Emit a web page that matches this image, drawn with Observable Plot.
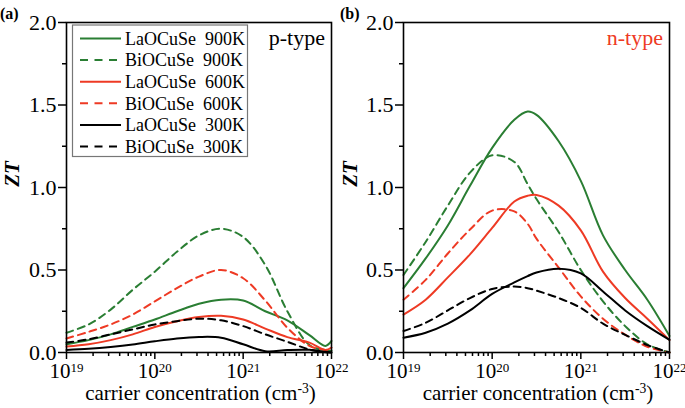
<!DOCTYPE html>
<html><head><meta charset="utf-8">
<script src="https://cdn.jsdelivr.net/npm/d3@7"></script>
<script src="https://cdn.jsdelivr.net/npm/@observablehq/plot@0.6"></script>
<style>
body{margin:0;background:#fff;}
#wrap{position:relative;width:685px;height:408px;overflow:hidden;font-family:"Liberation Serif",serif;}
.panel{position:absolute;top:0;}
#wrap svg, #wrap svg text, #wrap svg tspan{font-family:"Liberation Serif",serif !important;}
</style></head><body><div id="wrap"></div>
<script>
// ---- data (exponent of carrier concentration, ZT) ----
const pLogN = [19, 19.25, 19.5, 19.75, 20, 20.25, 20.5, 20.75, 21, 21.25, 21.5, 21.75, 21.93, 22];
const pLa900 = [0.05, 0.075, 0.11, 0.155, 0.20, 0.25, 0.295, 0.32, 0.315, 0.25, 0.195, 0.105, 0.04, 0.07];
const pBi900 = [0.12, 0.17, 0.26, 0.38, 0.49, 0.61, 0.71, 0.75, 0.70, 0.53, 0.25, 0.045, 0.015, 0.01];
const pLa600 = [0.036, 0.05, 0.075, 0.11, 0.155, 0.19, 0.215, 0.222, 0.20, 0.145, 0.093, 0.06, 0.015, 0.03];
const pBi600 = [0.085, 0.125, 0.17, 0.23, 0.31, 0.39, 0.46, 0.50, 0.45, 0.315, 0.15, 0.04, 0.015, 0.01];
const pLa300 = [0.015, 0.022, 0.033, 0.048, 0.068, 0.085, 0.094, 0.09, 0.05, 0.008, 0.015, 0.016, 0.004, 0.0];
const pBi300 = [0.06, 0.08, 0.11, 0.14, 0.17, 0.19, 0.205, 0.195, 0.16, 0.11, 0.065, 0.018, 0.002, 0.0];

const nLogN = [19, 19.25, 19.5, 19.75, 20, 20.25, 20.4, 20.5, 20.75, 21, 21.25, 21.5, 21.75, 22];
const nLa900 = [0.39, 0.57, 0.77, 1.01, 1.24, 1.41, 1.46, 1.44, 1.28, 1.04, 0.71, 0.50, 0.32, 0.10];
const nBi900 = [0.47, 0.67, 0.89, 1.09, 1.195, 1.155, 1.02, 0.93, 0.73, 0.50, 0.31, 0.16, 0.05, 0.0];
const nLa600 = [0.23, 0.32, 0.455, 0.595, 0.755, 0.915, 0.95, 0.955, 0.89, 0.74, 0.49, 0.33, 0.205, 0.075];
const nBi600 = [0.32, 0.44, 0.60, 0.745, 0.86, 0.855, 0.78, 0.69, 0.515, 0.34, 0.205, 0.108, 0.035, 0.0];
const nLa300 = [0.09, 0.12, 0.175, 0.255, 0.355, 0.425, 0.463, 0.485, 0.508, 0.48, 0.37, 0.255, 0.16, 0.077];
const nBi300 = [0.13, 0.18, 0.255, 0.33, 0.385, 0.40, 0.39, 0.375, 0.33, 0.27, 0.175, 0.107, 0.045, 0.0];

const seriesLabels = ["LaOCuSe\u00a0 900K", "BiOCuSe\u00a0 900K", "LaOCuSe\u00a0 600K", "BiOCuSe\u00a0 600K", "LaOCuSe\u00a0 300K", "BiOCuSe\u00a0 300K"];
const seriesColors = ["#2a7e33", "#2a7e33", "#ee3a24", "#ee3a24", "#000000", "#000000"];
const seriesDashed = [false, true, false, true, false, true];

const yMajor = [0, 0.5, 1, 1.5, 2];
const yMinor = [0.25, 0.75, 1.25, 1.75];
const xMajor = [1e19, 1e20, 1e21, 1e22];
const xMinor = [];
for (const e of [19, 20, 21]) for (let k = 2; k <= 9; k++) xMinor.push(k * 10 ** e);

const FONT = '"Liberation Serif", serif';

function table(xs, ys) { return xs.map((e, i) => ({n: 10 ** e, zt: ys[i]})); }

function panel(opts) {
  const {width, marginLeft, marginRight, series, logN} = opts;
  const marks = [
    Plot.axisY({ticks: yMinor, tickSize: 4, tickFormat: () => "", strokeWidth: 1.5, label: null}),
    Plot.axisY({ticks: yMajor, tickSize: 8, tickPadding: 2, tickFormat: d3.format(".1f"), strokeWidth: 1.5, fontSize: 22, fontFamily: FONT, label: null}),
    Plot.axisX({ticks: xMinor, tickSize: 4, tickFormat: () => "", strokeWidth: 1.5, label: null}),
    Plot.axisX({ticks: xMajor, tickSize: 7, tickPadding: 4, tickFormat: d => String(Math.round(Math.log10(d))), strokeWidth: 1.5, fontSize: 21, fontFamily: FONT, label: null})
  ];
  series.forEach((ys, i) => {
    marks.push(Plot.line(table(logN, ys), {
      x: "n", y: "zt", stroke: seriesColors[i], strokeWidth: 2,
      strokeDasharray: seriesDashed[i] ? "7,5" : null, curve: "catmull-rom"
    }));
  });
  marks.push(Plot.frame({stroke: "#000", strokeWidth: 1.6}));
  const svg = Plot.plot({
    width, height: 408, marginLeft, marginRight, marginTop: 22, marginBottom: 56,
    x: {type: "log", domain: [1e19, 1e22]},
    y: {domain: [0, 2]},
    style: {fontFamily: FONT, fontSize: "21px", color: "#000", background: "transparent", overflow: "visible"},
    marks
  });
  const s = d3.select(svg);
  s.selectAll('g[aria-label="x-axis tick label"] text').each(function () {
    const e = this.textContent;
    if (!e) return;
    this.textContent = "";
    const t = d3.select(this);
    t.append("tspan").text("10");
    t.append("tspan").attr("dy", "-0.5em").attr("font-size", "0.62em").text(e);
  });
  const fx0 = marginLeft, fx1 = width - marginRight;
  // x label
  const xl = s.append("text").attr("x", (fx0 + fx1) / 2 + 2).attr("y", 400)
    .attr("text-anchor", "middle").attr("font-size", 21).attr("font-family", FONT).attr("fill", "#000");
  xl.append("tspan").text("carrier concentration (cm");
  xl.append("tspan").attr("dy", "-0.5em").attr("font-size", "0.65em").text("-3");
  xl.append("tspan").attr("dy", "0.33em").text(")");
  // y label
  s.append("text").attr("transform", `translate(${opts.zx},174) rotate(-90)`)
    .attr("text-anchor", "middle").attr("dy", "0.35em")
    .attr("font-size", 21).attr("font-style", "italic").attr("font-weight", "bold")
    .attr("font-family", FONT).text("ZT");
  // panel tag
  s.append("text").attr("x", 0).attr("y", 19).attr("text-anchor", "start").attr("font-size", 16).attr("font-weight", "bold")
    .attr("font-family", FONT).text(opts.tag);
  // type label
  s.append("text").attr("x", opts.typeX).attr("y", 45).attr("text-anchor", "end")
    .attr("font-size", 22).attr("font-family", FONT).attr("fill", opts.typeColor).text(opts.typeText);
  return svg;
}

function addLegend(svg) {
  const s = d3.select(svg);
  const g = s.append("g");
  g.append("rect").attr("x", 72.5).attr("y", 25).attr("width", 175).attr("height", 131.5)
    .attr("fill", "#fff").attr("stroke", "#777").attr("stroke-width", 1.2);
  seriesLabels.forEach((lab, i) => {
    const cy = 38.5 + i * 21.6;
    g.append("line").attr("x1", 80).attr("x2", 121).attr("y1", cy).attr("y2", cy)
      .attr("stroke", seriesColors[i]).attr("stroke-width", 2)
      .attr("stroke-dasharray", seriesDashed[i] ? "8,6.5" : null);
    g.append("text").attr("x", 125).attr("y", cy).attr("dy", "0.35em").attr("text-anchor", "start")
      .attr("font-size", 18).attr("font-family", FONT).text(lab);
  });
}

const wrap = document.getElementById("wrap");
const left = panel({width: 340, marginLeft: 66, marginRight: 9, logN: pLogN,
  series: [pLa900, pBi900, pLa600, pBi600, pLa300, pBi300],
  zx: 12, tag: "(a)", typeX: 325, typeColor: "#000", typeText: "p-type"});
addLegend(left);
left.classList.add("panel"); left.style.left = "0px";
wrap.appendChild(left);

const right = panel({width: 345, marginLeft: 63, marginRight: 16, logN: nLogN,
  series: [nLa900, nBi900, nLa600, nBi600, nLa300, nBi300],
  zx: 10, tag: "(b)", typeX: 323, typeColor: "#ee3a24", typeText: "n-type"});
right.classList.add("panel"); right.style.left = "340px";
wrap.appendChild(right);
</script>
</body></html>
